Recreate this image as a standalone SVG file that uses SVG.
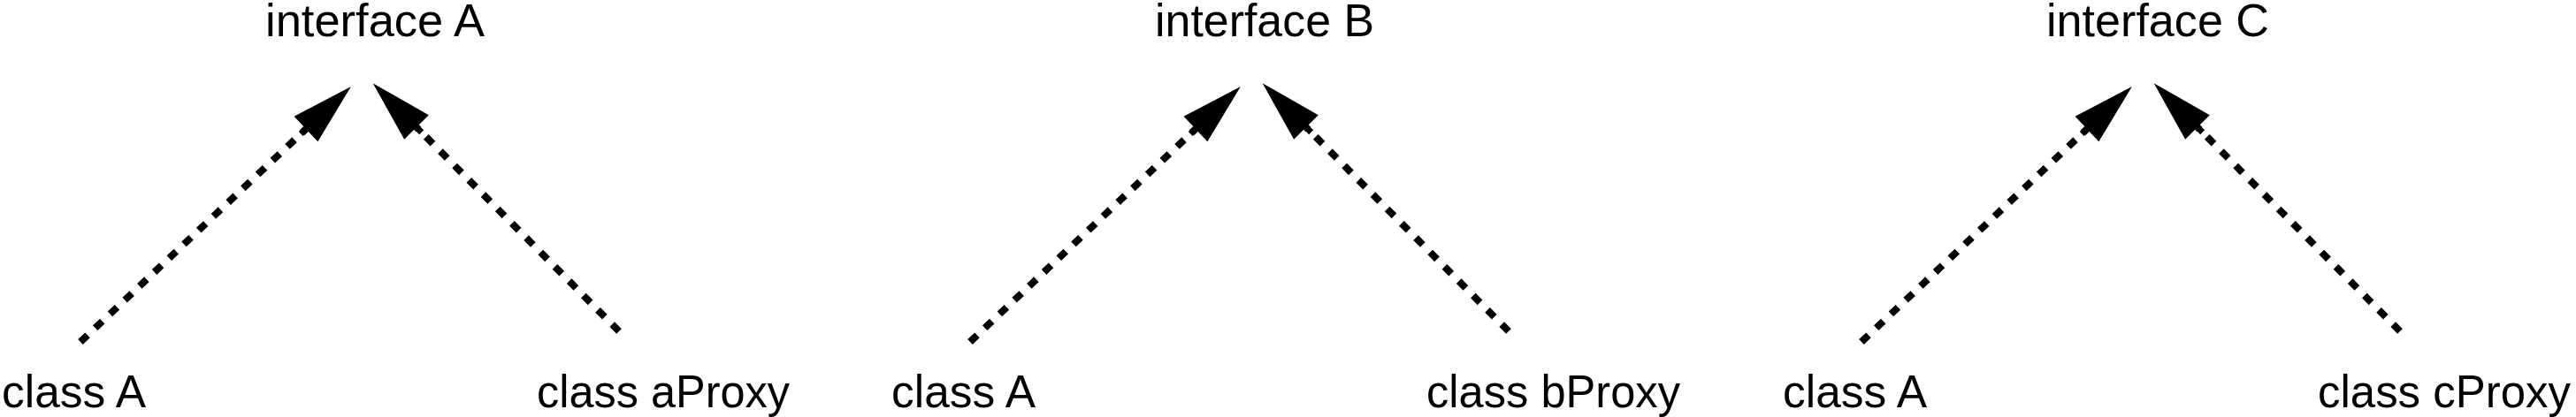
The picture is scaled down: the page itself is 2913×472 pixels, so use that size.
<svg xmlns="http://www.w3.org/2000/svg" width="2913" height="472" viewBox="0 0 2913 472">
  <style>
    .lbl { font-family: "Liberation Sans", Arial, sans-serif; font-size: 52px; fill: #000; }
    .dep { fill: none; stroke: #000; stroke-width: 8; stroke-dasharray: 11 12; marker-end: url(#head); }
  </style>
  <defs>
    <marker id="head" markerUnits="userSpaceOnUse" viewBox="-80 -21 82 42" markerWidth="82" markerHeight="42" refX="-70" refY="0" orient="auto">
      <rect x="-78" y="-3.5" width="10" height="7" fill="#000"/>
      <path d="M0,0 L-70,-19.5 L-70,19.5 Z" fill="#000"/>
    </marker>
  </defs>
  <rect width="2913" height="472" fill="#fff"/>

  <g id="connectors">
    <path class="dep" d="M91,387 L346,146"/>
    <path class="dep" d="M700,375 L471,144"/>
    <path class="dep" d="M1097,387 L1352,146"/>
    <path class="dep" d="M1706,375 L1477,144"/>
    <path class="dep" d="M2105,387 L2360,146"/>
    <path class="dep" d="M2714,375 L2485,144"/>
  </g>

  <g id="interfaceA"><text class="lbl" x="300" y="41" textLength="248" lengthAdjust="spacingAndGlyphs">interface A</text></g>
  <g id="classA1"><text class="lbl" x="2" y="461" textLength="163" lengthAdjust="spacingAndGlyphs">class A</text></g>
  <g id="classAProxy"><text class="lbl" x="607" y="461" textLength="286" lengthAdjust="spacingAndGlyphs">class aProxy</text></g>

  <g id="interfaceB"><text class="lbl" x="1306" y="41" textLength="248" lengthAdjust="spacingAndGlyphs">interface B</text></g>
  <g id="classA2"><text class="lbl" x="1008" y="461" textLength="163" lengthAdjust="spacingAndGlyphs">class A</text></g>
  <g id="classBProxy"><text class="lbl" x="1613" y="461" textLength="287" lengthAdjust="spacingAndGlyphs">class bProxy</text></g>

  <g id="interfaceC"><text class="lbl" x="2314" y="41" textLength="252" lengthAdjust="spacingAndGlyphs">interface C</text></g>
  <g id="classA3"><text class="lbl" x="2016" y="461" textLength="163" lengthAdjust="spacingAndGlyphs">class A</text></g>
  <g id="classCProxy"><text class="lbl" x="2621" y="461" textLength="286" lengthAdjust="spacingAndGlyphs">class cProxy</text></g>
</svg>
